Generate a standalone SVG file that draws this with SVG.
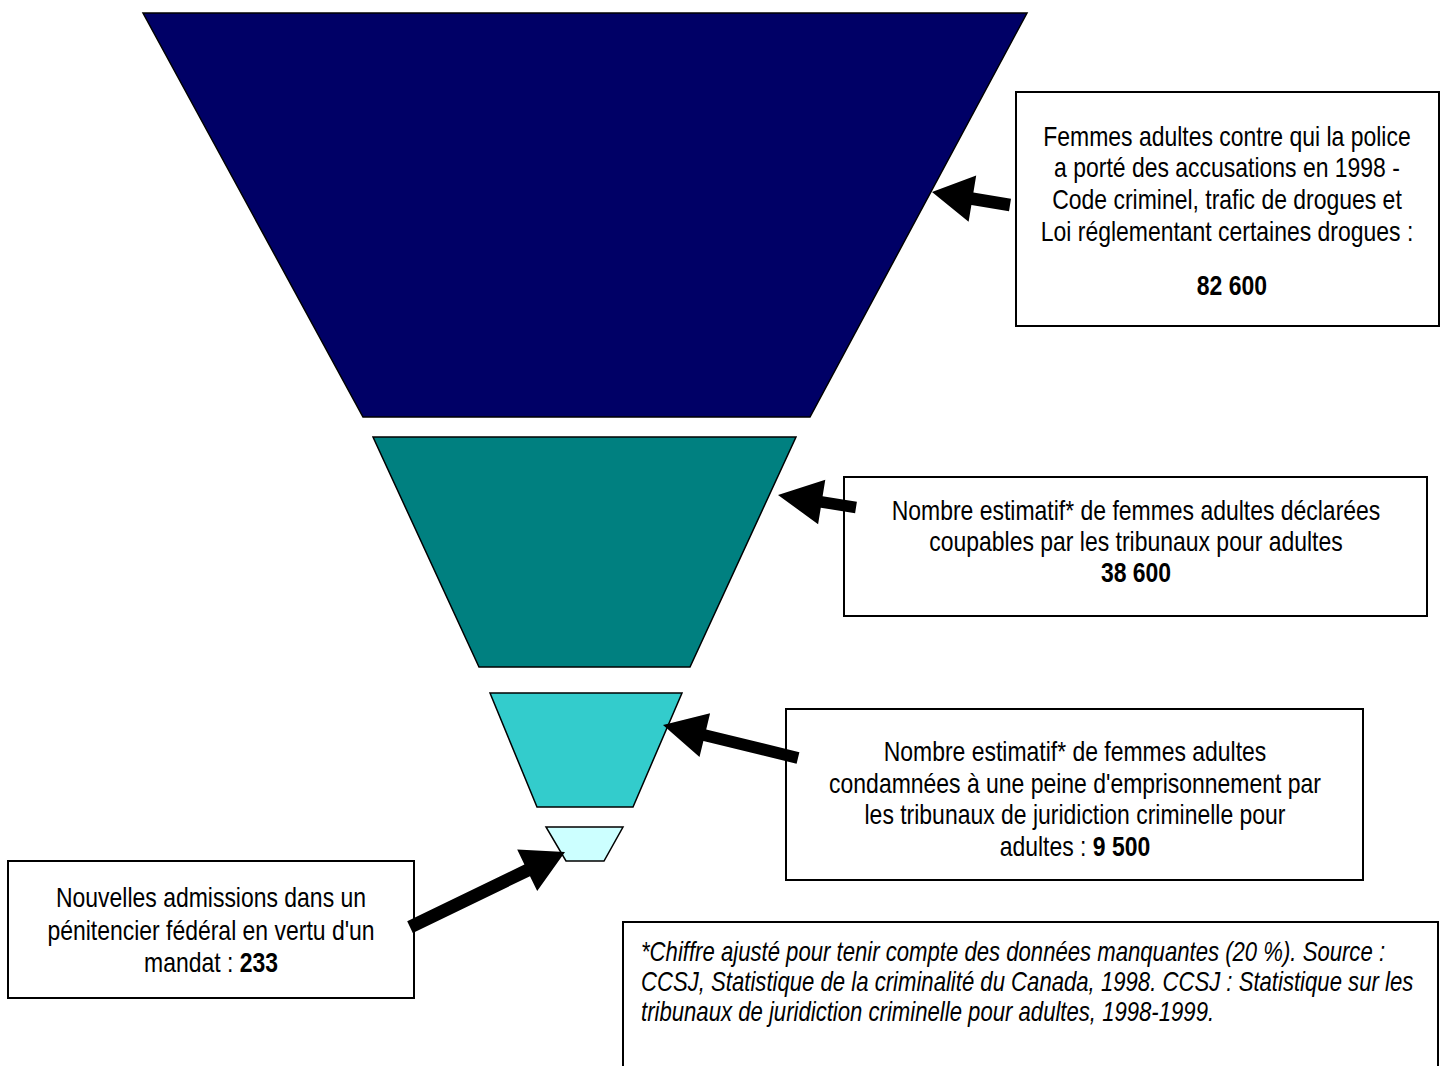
<svg xmlns="http://www.w3.org/2000/svg" width="1442" height="1066" viewBox="0 0 1442 1066">
<style>
.box{fill:#ffffff;stroke:#000000;stroke-width:2}
.lvl{stroke:#000000;stroke-width:1.5}
.t{font-family:"Liberation Sans",Arial,sans-serif;font-size:28px;fill:#000000;text-anchor:middle}
.b{font-weight:bold}
.fn{font-family:"Liberation Sans",Arial,sans-serif;font-size:27px;font-style:italic;fill:#000000}
.arrow{fill:#000000;stroke:none}
</style>
<rect x="0" y="0" width="1442" height="1066" fill="#ffffff"/>
<g id="level1"><polygon class="lvl" points="143,13 1027,13 810,417 363,417" fill="#000066"/></g>
<g id="level2"><polygon class="lvl" points="373,437 796,437 690,667 479,667" fill="#008080"/></g>
<g id="level3"><polygon class="lvl" points="490,693 682,693 633,807 537,807" fill="#33CCCC"/></g>
<g id="level4"><polygon class="lvl" points="546,827 623,827 604,861 566,861" fill="#CCFFFF"/></g>

<g id="box1">
<rect class="box" x="1016" y="92" width="423" height="234"/>
<g transform="translate(1227,0) scale(0.82,1)">
<text class="t" x="0" y="146">Femmes adultes contre qui la police</text>
<text class="t" x="0" y="177">a porté des accusations en 1998 -</text>
<text class="t" x="0" y="209">Code criminel, trafic de drogues et</text>
<text class="t" x="0" y="241">Loi réglementant certaines drogues :</text>
<text class="t b" x="6" y="295">82 600</text>
</g>
</g>
<g id="box2">
<rect class="box" x="844" y="477" width="583" height="139"/>
<g transform="translate(1136,0) scale(0.82,1)">
<text class="t" x="0" y="520">Nombre estimatif* de femmes adultes déclarées</text>
<text class="t" x="0" y="551">coupables par les tribunaux pour adultes</text>
<text class="t b" x="0" y="582">38 600</text>
</g>
</g>
<g id="box3">
<rect class="box" x="786" y="709" width="577" height="171"/>
<g transform="translate(1075,0) scale(0.82,1)">
<text class="t" x="0" y="761">Nombre estimatif* de femmes adultes</text>
<text class="t" x="0" y="793">condamnées à une peine d'emprisonnement par</text>
<text class="t" x="0" y="824">les tribunaux de juridiction criminelle pour</text>
<text class="t" x="0" y="856">adultes : <tspan class="b">9 500</tspan></text>
</g>
</g>
<g id="box4">
<rect class="box" x="8" y="861" width="406" height="137"/>
<g transform="translate(211,0) scale(0.82,1)">
<text class="t" x="0" y="907">Nouvelles admissions dans un</text>
<text class="t" x="0" y="940">pénitencier fédéral en vertu d'un</text>
<text class="t" x="0" y="972">mandat : <tspan class="b">233</tspan></text>
</g>
</g>
<g id="footnote">
<path d="M623,1068 L623,922 L1438,922 L1438,1068" fill="#ffffff" stroke="#000000" stroke-width="2"/>
<g transform="translate(641,0) scale(0.82,1)">
<text class="fn" x="0" y="961">*Chiffre ajusté pour tenir compte des données manquantes (20 %). Source :</text>
<text class="fn" x="0" y="991">CCSJ, Statistique de la criminalité du Canada, 1998. CCSJ : Statistique sur les</text>
<text class="fn" x="0" y="1021">tribunaux de juridiction criminelle pour adultes, 1998-1999.</text>
</g>
</g>

<g id="connectors">
<polygon class="arrow" points="1011.0,198.8 973.4,192.5 976.2,175.6 932,192 968.6,221.8 971.4,204.9 1009.0,211.2"/>
<polygon class="arrow" points="856.9,501.8 822.6,496.3 825.3,479.8 778,495 818.1,524.2 820.8,507.7 855.1,513.2"/>
<polygon class="arrow" points="799.4,752.2 706.2,729.4 710.1,713.3 663,725 699.5,757.1 703.4,741.0 796.6,763.8"/>
<polygon class="arrow" points="407.2,921.2 524.4,864.5 517.2,849.6 565,852 537.2,891.0 530.0,876.2 412.8,932.9"/>
</g>
</svg>
